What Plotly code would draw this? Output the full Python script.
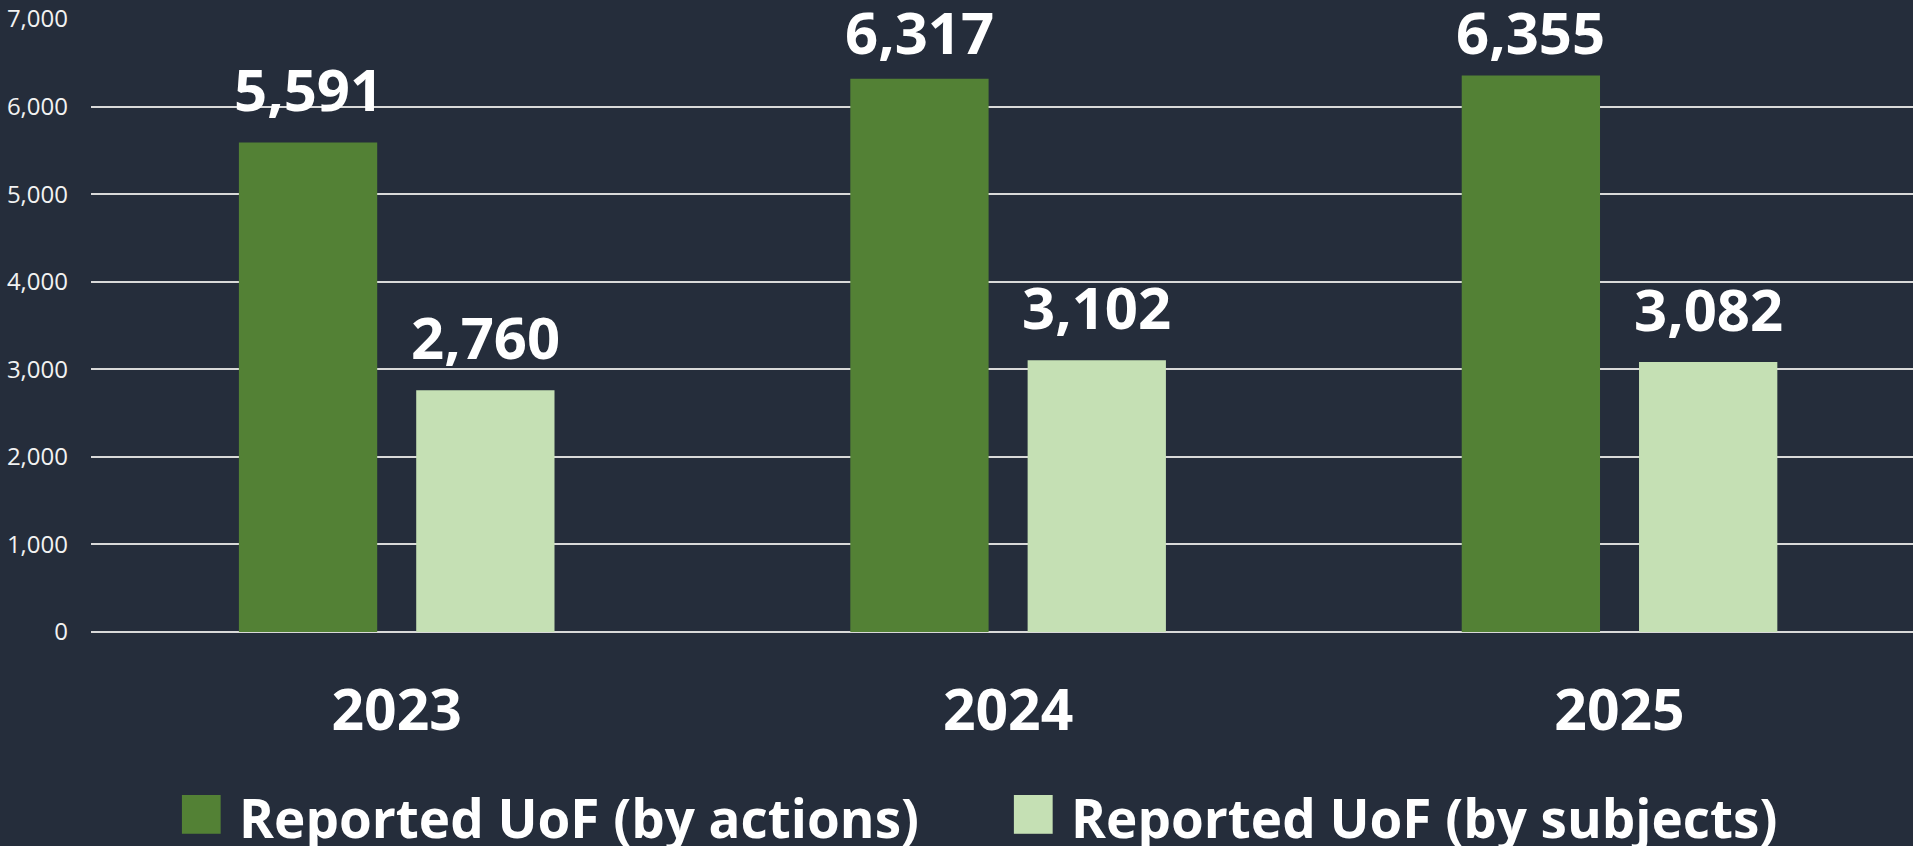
import plotly.graph_objects as go

years = ["2023", "2024", "2025"]
series_names = ["Reported UoF (by actions)", "Reported UoF (by subjects)"]
by_actions = [5591, 6317, 6355]
by_subjects = [2760, 3102, 3082]
colors = ["#538135", "#C5E0B4"]
tick_vals = [0, 1000, 2000, 3000, 4000, 5000, 6000, 7000]

BG = "#252D3B"
FONT = "Open Sans"
W, H = 1913, 846
M = dict(l=91, r=0, t=19, b=214)
BARGAP, BARGROUPGAP = 0.42, 0.22
X_RANGE = [-0.5, len(years) - 0.52]   # plot area runs slightly past the right edge
LABEL_CEIL = 6250                     # labels are kept inside the chart area

fig = go.Figure()
series = [by_actions, by_subjects]
for name, vals, col in zip(series_names, series, colors):
    fig.add_trace(go.Bar(
        x=years, y=vals, name=name, marker=dict(color=col, line=dict(width=0)),
        showlegend=False,
    ))

# value labels above bars (offset = half a group slot, from the layout gaps)
cat_px = (W - M["l"] - M["r"]) / (X_RANGE[1] - X_RANGE[0])
slot_px = cat_px * (1 - BARGAP) / len(series)
for i, vals in enumerate(series):
    dx = (i - (len(series) - 1) / 2) * slot_px
    for k, v in enumerate(vals):
        fig.add_annotation(
            x=k, y=min(v, LABEL_CEIL), xshift=dx, yshift=12, yanchor="bottom",
            showarrow=False, text=f"{v:,}",
            font=dict(family=FONT, size=58, color="white", weight="bold"),
        )

# Legend built as text annotations with coloured squares
legend_x = [0.046, 0.503]
for name, col, lx in zip(series_names, colors, legend_x):
    fig.add_annotation(
        xref="paper", yref="paper", x=lx, y=-0.284, xanchor="left", yanchor="middle",
        text=f"<span style='color:{col};font-size:80px'>■</span> {name}", showarrow=False,
        font=dict(family=FONT, size=53, color="white", weight="bold"),
    )

fig.update_layout(
    width=W, height=H,
    paper_bgcolor=BG, plot_bgcolor=BG,
    margin=M,
    barmode="group", bargap=BARGAP, bargroupgap=BARGROUPGAP,
)
fig.update_yaxes(
    range=[0, 7000], tickvals=tick_vals, tickformat=",",
    showgrid=True, gridcolor="#D9D9D9", gridwidth=2,
    zeroline=True, zerolinecolor="#D9D9D9", zerolinewidth=2,
    tickfont=dict(family=FONT, size=24, color="#F2F2F2"), ticklabelstandoff=22,
    showline=False,
)
fig.update_xaxes(
    type="category", range=X_RANGE,
    tickfont=dict(family=FONT, size=57, color="white", weight="bold"),
    showline=False, ticks="", ticklabelstandoff=40,
)

fig.write_html("out.html", config={"displayModeBar": False},
               post_script="document.body.style.margin='0';document.body.style.overflow='hidden';")
